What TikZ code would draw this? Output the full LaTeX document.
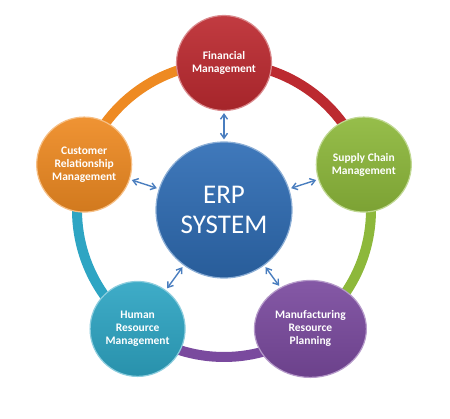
\documentclass[tikz,border=0pt]{standalone}
\usepackage{fontspec}
\setmainfont{Carlito}
\usepackage{tikz}
\usetikzlibrary{positioning,calc,shapes.geometric,arrows.meta}

\definecolor{finC}{HTML}{BC2A30}
\definecolor{scmC}{HTML}{8DB83B}
\definecolor{crmC}{HTML}{EE8A22}
\definecolor{hrmC}{HTML}{2EA5C3}
\definecolor{mrpC}{HTML}{7A4A9E}
\definecolor{erpC}{HTML}{2F6DB5}
\definecolor{linkC}{HTML}{4A7EBF}

\begin{document}
\begin{tikzpicture}[x=1pt, y=1pt,
    >={Straight Barb[length=5pt,width=7pt]},
    module/.style={%
      circle, minimum size=95pt, inner sep=0pt, align=center,
      text=white, font=\fontsize{11.5}{13}\selectfont\bfseries,
      top color=#1!92!white, bottom color=#1!88!black,
      draw=#1!55!white, line width=1.2pt
    },
    core/.style={%
      circle, minimum size=136pt, inner sep=0pt, align=center,
      text=white, font=\fontsize{27}{30}\selectfont,
      top color=erpC!92!white, bottom color=erpC!85!black,
      draw=erpC!55!white, line width=1.2pt
    },
    link/.style={<->, draw=linkC, line width=1.4pt, shorten <=2pt, shorten >=2pt},
    ring/.style={line width=10pt}
]
    \useasboundingbox (0,0) rectangle (450,418);
    \coordinate (c) at (224,208);

    % ring behind the modules
    \foreach \a/\col in {162/crmC, 90/finC, 18/scmC, -54/mrpC, -126/hrmC}
      \draw[ring, draw=\col] (c) ++(\a:147pt) arc[start angle=\a, end angle=\a-72, radius=147pt];

    \node[core] (erp) at (c) {ERP\\SYSTEM};
    \node[module=finC] (fin) at ($(c)+(90:147pt)$) {Financial\\Management};
    \node[module=scmC] (scm) at ($(c)+(18:147pt)$) {Supply Chain\\Management};
    \node[module=crmC] (crm) at ($(c)+(162:147pt)$) {Customer\\Relationship\\Management};
    \node[module=hrmC] (hrm) at ($(c)+(234:147pt)$) {Human\\Resource\\Management};
    \node[module=mrpC, ellipse, minimum width=112pt, minimum height=97pt] (mrp)
      at ($(c)+(306:147pt)$) {Manufacturing\\Resource\\Planning};

    \path (erp) edge[link] (fin)
          (erp) edge[link] (scm)
          (erp) edge[link] (crm)
          (erp) edge[link] (hrm)
          (erp) edge[link] (mrp)
    ;

\end{tikzpicture}
\end{document}
